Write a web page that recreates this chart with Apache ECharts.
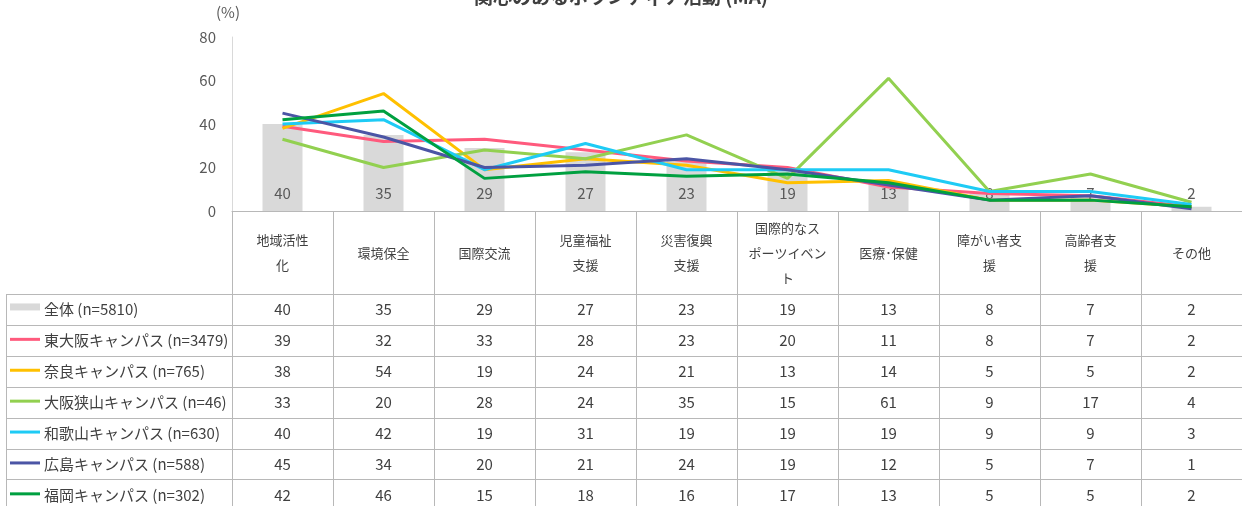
<!DOCTYPE html>
<html>
<head>
<meta charset="utf-8">
<script src="https://cdn.jsdelivr.net/npm/echarts@6/dist/echarts.min.js"></script>
<style>html,body{margin:0;padding:0;background:#fff;}#c{width:1242px;height:506px;}</style>
</head>
<body>
<div id="c"></div>
<script>
const titleText = '関心のあるボランティア活動 (MA)';
const categories = ['地域活性\n化','環境保全','国際交流','児童福祉\n支援','災害復興\n支援','国際的なス\nポーツイベン\nト','医療･保健','障がい者支\n援','高齢者支\n援','その他'];
const yTicks = [0, 20, 40, 60, 80];
const seriesNames = ['全体 (n=5810)','東大阪キャンパス (n=3479)','奈良キャンパス (n=765)','大阪狭山キャンパス (n=46)','和歌山キャンパス (n=630)','広島キャンパス (n=588)','福岡キャンパス (n=302)'];
const zentai   = [40,35,29,27,23,19,13,8,7,2];
const higashiOsaka = [39,32,33,28,23,20,11,8,7,2];
const nara     = [38,54,19,24,21,13,14,5,5,2];
const osakaSayama = [33,20,28,24,35,15,61,9,17,4];
const wakayama = [40,42,19,31,19,19,19,9,9,3];
const hiroshima = [45,34,20,21,24,19,12,5,7,1];
const fukuoka  = [42,46,15,18,16,17,13,5,5,2];

const lineData = [higashiOsaka, nara, osakaSayama, wakayama, hiroshima, fukuoka];
const lineColors = ['#FF5A7D','#FFC000','#92D050','#1ECBF5','#4B55A5','#00A040'];
const barColor = '#D9D9D9';
const textColor = '#404040';
const gridLine = '#B8B8B8';
const FONT = '"Noto Sans CJK JP", sans-serif';

const chart = echarts.init(document.getElementById('c'), null, {renderer:'canvas'});

const series = [{
  name: seriesNames[0], type: 'bar', data: zentai, barWidth: 40,
  itemStyle: {color: barColor},
  label: {show: true, position: 'insideBottom', distance: 10, color: '#595959', fontSize: 15, fontFamily: FONT},
  z: 1
}];
lineData.forEach((d, i) => {
  series.push({
    name: seriesNames[i+1], type: 'line', data: d, showSymbol: false, symbol: 'none',
    lineStyle: {color: lineColors[i], width: 3}, itemStyle: {color: lineColors[i]}, z: 2 + i
  });
});

chart.setOption({
  animation: false,
  backgroundColor: '#fff',
  title: {text: titleText, left: 'center', top: -18, textStyle: {fontSize: 19, fontWeight: 'bold', color: textColor, fontFamily: FONT}},
  grid: {left: 232, right: 0, top: 37, bottom: 506 - 211, containLabel: false},
  xAxis: {
    type: 'category', data: categories,
    axisLine: {show: true, lineStyle: {color: gridLine, width: 1}},
    axisTick: {show: false},
    axisLabel: {interval: 0, margin: 42, verticalAlign: 'middle', lineHeight: 25, fontSize: 13, color: textColor, fontFamily: FONT}
  },
  yAxis: {
    type: 'value', min: 0, max: 80, interval: 20,
    axisLine: {show: true, lineStyle: {color: '#D9D9D9'}},
    axisTick: {show: false},
    splitLine: {show: false},
    axisLabel: {margin: 16, fontSize: 15, color: '#595959', fontFamily: FONT,
      formatter: v => yTicks.includes(v) ? String(v) : ''}
  },
  series: series
});

// Data table below the plot
const headerTop = 211, headerBottom = 294, rowH = 30.9, leftX = 6, axisX = 232, rightX = 1242;
const x0 = chart.convertToPixel({xAxisIndex: 0}, 0);
const x1 = chart.convertToPixel({xAxisIndex: 0}, 1);
const step = x1 - x0;
const els = [];
const allData = [zentai].concat(lineData);
// '(%)' label
els.push({type: 'text', left: 216, top: 5, style: {text: '(%)', fontSize: 15, fill: '#595959', fontFamily: FONT}});
// vertical lines
els.push({type: 'line', shape: {x1: axisX + 0.5, y1: headerTop, x2: axisX + 0.5, y2: 506}, style: {stroke: gridLine, lineWidth: 1}});
els.push({type: 'line', shape: {x1: leftX + 0.5, y1: headerBottom, x2: leftX + 0.5, y2: 506}, style: {stroke: gridLine, lineWidth: 1}});
for (let i = 1; i <= categories.length; i++) {
  const xb = Math.round(x0 - step / 2 + i * step) + 0.5;
  els.push({type: 'line', shape: {x1: xb, y1: headerTop, x2: xb, y2: 506}, style: {stroke: gridLine, lineWidth: 1}});
}
// horizontal lines and rows
for (let r = 0; r < allData.length; r++) {
  const yTop = Math.round(headerBottom + r * rowH) + 0.5;
  els.push({type: 'line', shape: {x1: leftX, y1: yTop, x2: rightX, y2: yTop}, style: {stroke: gridLine, lineWidth: 1}});
  const yc = headerBottom + r * rowH + rowH / 2;
  if (r === 0) {
    els.push({type: 'rect', shape: {x: 10, y: yc - 6, width: 30, height: 7}, style: {fill: barColor}});
  } else {
    els.push({type: 'line', shape: {x1: 10, y1: yc - 1, x2: 40, y2: yc - 1}, style: {stroke: lineColors[r - 1], lineWidth: 3}});
  }
  els.push({type: 'text', x: 44, y: yc, style: {text: seriesNames[r], fontSize: 15, fill: textColor, fontFamily: FONT, textVerticalAlign: 'middle', verticalAlign: 'middle'}});
  allData[r].forEach((v, i) => {
    const cx = chart.convertToPixel({xAxisIndex: 0}, i);
    els.push({type: 'text', x: cx, y: yc, style: {text: String(v), fontSize: 15, fill: textColor, fontFamily: FONT, align: 'center', textAlign: 'center', verticalAlign: 'middle', textVerticalAlign: 'middle'}});
  });
}
const yLast = Math.round(headerBottom + allData.length * rowH) + 0.5;
els.push({type: 'line', shape: {x1: leftX, y1: yLast, x2: rightX, y2: yLast}, style: {stroke: gridLine, lineWidth: 1}});
chart.setOption({graphic: {elements: els}});
</script>
</body>
</html>
